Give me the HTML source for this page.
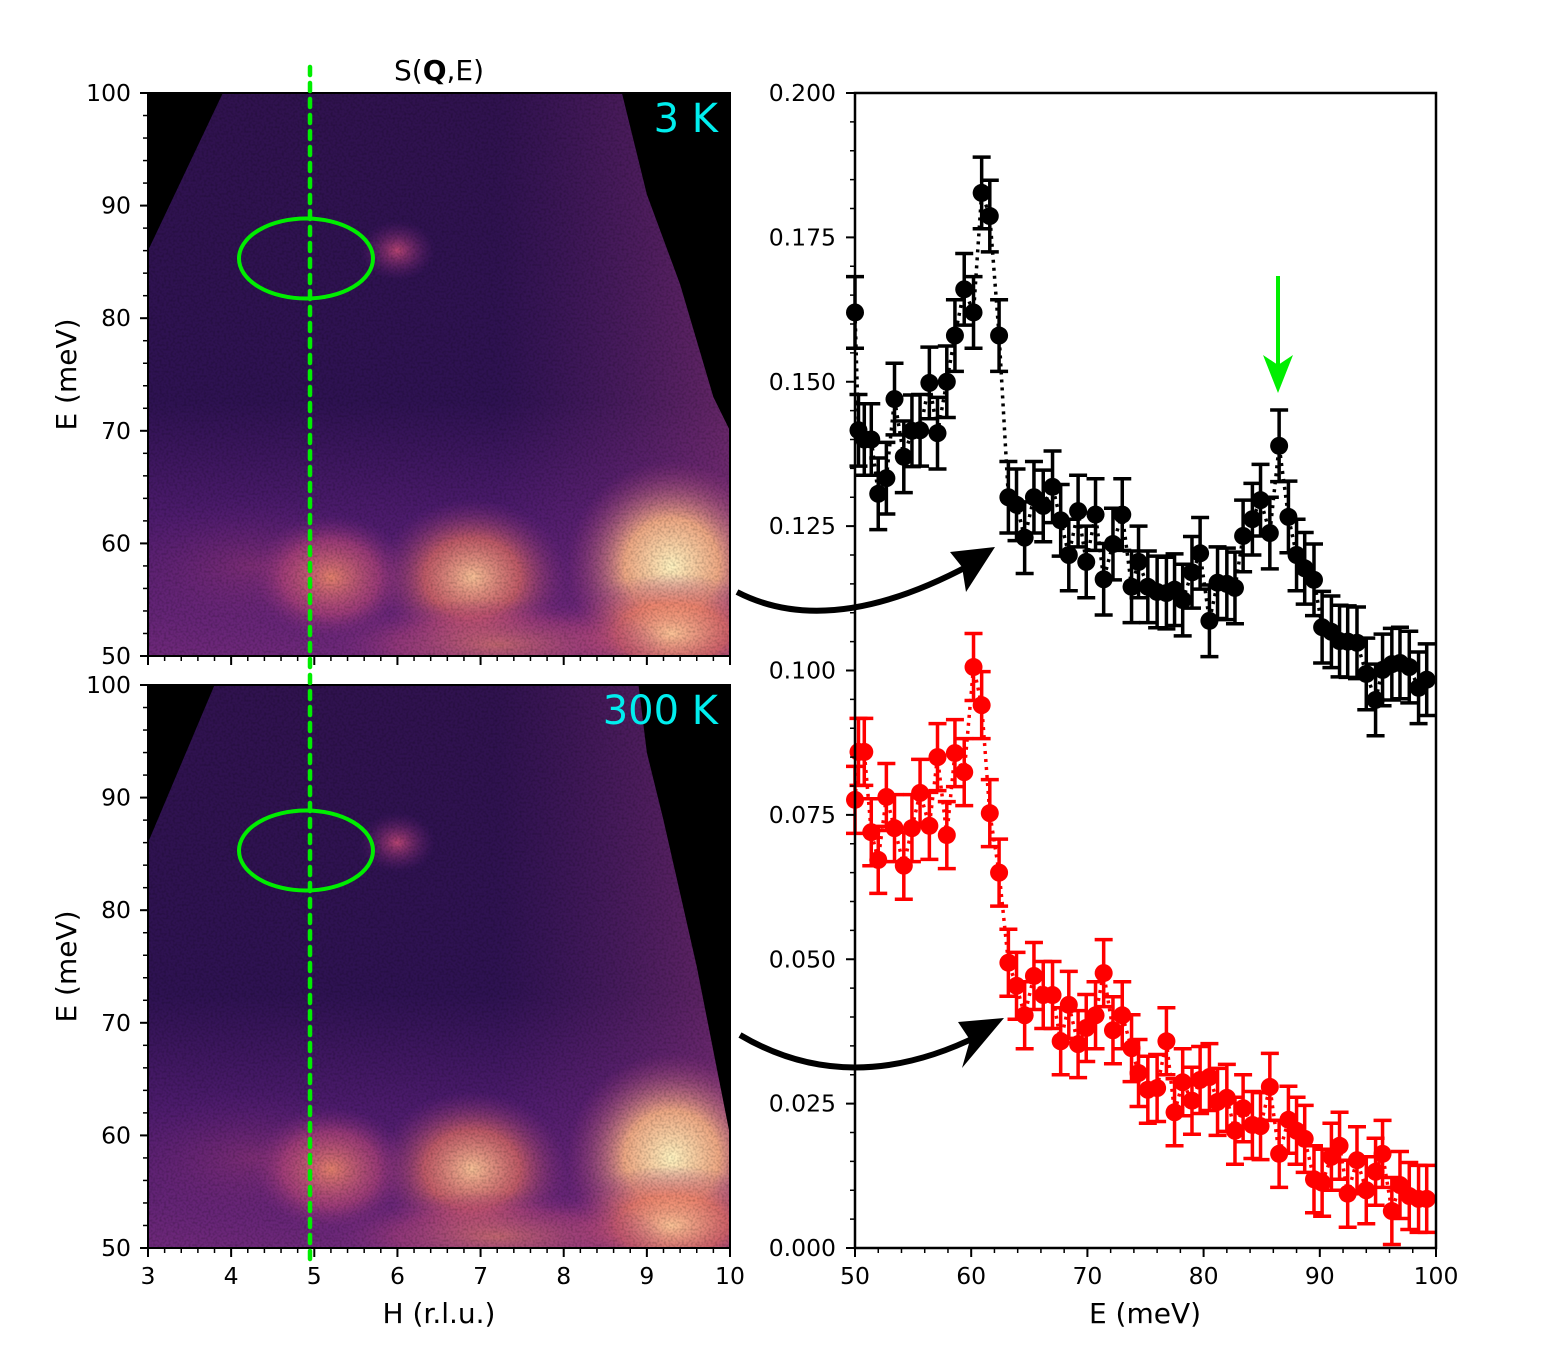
<!DOCTYPE html>
<html><head><meta charset="utf-8"><style>
html,body{margin:0;padding:0;background:#fff;}
svg{display:block;font-family:"DejaVu Sans","Liberation Sans",sans-serif;}
</style></head><body>
<svg id="fig" width="1561" height="1356" viewBox="0 0 1561 1356" xmlns="http://www.w3.org/2000/svg">
<defs>
<radialGradient id="gA"><stop offset="0" stop-color="#f08a6a" stop-opacity="0.9"/><stop offset="0.6" stop-color="#c04a7a" stop-opacity="0.6"/><stop offset="1" stop-color="#7a2a80" stop-opacity="0"/></radialGradient>
<radialGradient id="gB"><stop offset="0" stop-color="#ffc898" stop-opacity="0.95"/><stop offset="0.5" stop-color="#e87262" stop-opacity="0.7"/><stop offset="1" stop-color="#8a3080" stop-opacity="0"/></radialGradient>
<radialGradient id="gC"><stop offset="0" stop-color="#fff3c0" stop-opacity="1"/><stop offset="0.45" stop-color="#fbb585" stop-opacity="0.9"/><stop offset="1" stop-color="#a03a7a" stop-opacity="0"/></radialGradient>
<radialGradient id="gD"><stop offset="0" stop-color="#d8507a" stop-opacity="0.8"/><stop offset="1" stop-color="#6a2080" stop-opacity="0"/></radialGradient>
<linearGradient id="gBase" x1="0" y1="0" x2="0" y2="1"><stop offset="0" stop-color="#30124f"/><stop offset="0.55" stop-color="#2e1252"/><stop offset="0.75" stop-color="#4c1b6c"/><stop offset="1" stop-color="#6e287a"/></linearGradient>
<linearGradient id="gRight" x1="0" y1="0" x2="1" y2="0"><stop offset="0" stop-color="#000" stop-opacity="0"/><stop offset="0.6" stop-color="#7a2a7a" stop-opacity="0"/><stop offset="1" stop-color="#9a3a7a" stop-opacity="0.5"/></linearGradient>
<filter id="noise" x="0" y="0" width="100%" height="100%"><feTurbulence type="fractalNoise" baseFrequency="0.45" numOctaves="1" seed="3"/><feColorMatrix values="0 0 0 0 0  0 0 0 0 0  0 0 0 0 0  0 0 0 0.5 -0.2"/></filter>
</defs>
<g id="left"></g>
<g id="right"></g>
</svg>
<script>
// ---------- right-panel data (E in meV, intensity) ----------
const energies = [50.0,50.3,50.8,51.4,52.0,52.7,53.4,54.2,54.9,55.6,56.4,57.1,57.9,58.6,59.4,60.2,60.9,61.6,62.4,63.2,63.9,64.6,65.4,66.2,67.0,67.7,68.4,69.2,69.9,70.7,71.4,72.2,73.0,73.8,74.4,75.2,76.0,76.8,77.5,78.2,79.0,79.7,80.5,81.2,82.0,82.7,83.4,84.2,84.9,85.7,86.5,87.3,88.0,88.7,89.5,90.2,91.0,91.7,92.4,93.2,94.0,94.8,95.4,96.2,96.9,97.7,98.5,99.2];
const lowT = [0.162,0.1416,0.140,0.140,0.1306,0.1333,0.147,0.137,0.1415,0.1416,0.1498,0.1411,0.150,0.158,0.166,0.162,0.1827,0.1787,0.158,0.130,0.1287,0.123,0.130,0.1285,0.1318,0.126,0.120,0.1276,0.1188,0.127,0.1158,0.1219,0.127,0.1145,0.1188,0.1145,0.1136,0.1134,0.114,0.1122,0.117,0.1203,0.1086,0.1152,0.115,0.1143,0.1233,0.1262,0.1295,0.1238,0.1389,0.1266,0.120,0.1177,0.1157,0.1075,0.1067,0.1051,0.105,0.1048,0.0994,0.0949,0.1001,0.1011,0.1013,0.1006,0.097,0.0984];
const highT = [0.0776,0.0859,0.0859,0.072,0.0672,0.0781,0.0727,0.0662,0.0727,0.0788,0.0731,0.085,0.0715,0.0857,0.0824,0.1006,0.094,0.0753,0.065,0.0494,0.0454,0.0403,0.0471,0.0438,0.0438,0.0358,0.0421,0.0353,0.0381,0.0403,0.0476,0.0377,0.0403,0.0346,0.0303,0.0274,0.0277,0.0358,0.0235,0.0287,0.0255,0.0291,0.0296,0.0253,0.026,0.0203,0.0242,0.0213,0.0211,0.0279,0.0163,0.0222,0.0203,0.0189,0.0119,0.0113,0.0158,0.0177,0.0094,0.0152,0.01,0.0132,0.0163,0.0064,0.0109,0.009,0.0085,0.0085];
const errLow = [0.0062];
const errHigh = [0.0058];
const yTicks = ["0.000","0.025","0.050","0.075","0.100","0.125","0.150","0.175","0.200"];
const xTicksE = [50,60,70,80,90,100];
const hTicks = [3,4,5,6,7,8,9,10];
const eTicksL = [50,60,70,80,90,100];

const NS="http://www.w3.org/2000/svg";
function mk(tag,attrs,parent,text){const e=document.createElementNS(NS,tag);for(const k in attrs)e.setAttribute(k,attrs[k]);if(text!==undefined)e.textContent=text;parent.appendChild(e);return e;}

// ---------- right axes ----------
const R={x0:855,x1:1436,y0:93,y1:1248};
const sx=e=>R.x0+(e-50)/50*(R.x1-R.x0);
const sy=v=>R.y1-v/0.2*(R.y1-R.y0);
const right=document.getElementById('right');

function series(vals,err,color,name){
  const g=mk('g',{},right);
  
  
  let d='';
  energies.forEach((e,i)=>{d+=(i?'L':'M')+sx(e)+','+sy(vals[i]);});
  const ln=mk('path',{d:d,fill:'none',stroke:color,'stroke-width':3.5,'stroke-dasharray':'3,5'},g);
  
  
  energies.forEach((e,i)=>{
    const x=sx(e),y=sy(vals[i]),a=sy(vals[i]+err[0]),b=sy(vals[i]-err[0]);
    const eb=mk('path',{d:`M${x},${a}L${x},${b}M${x-9},${a}L${x+9},${a}M${x-9},${b}L${x+9},${b}`,stroke:color,'stroke-width':3.5,fill:'none'},g);
    
    
    const c=mk('circle',{cx:x,cy:y,r:9,fill:color},g);
    
    
  });
}
series(highT,errHigh,'#ff0000','series-300k');
series(lowT,errLow,'#000000','series-3k');

const rframe=mk('rect',{x:R.x0,y:R.y0,width:R.x1-R.x0,height:R.y1-R.y0,fill:'none',stroke:'#000','stroke-width':2.5},right);


yTicks.forEach(t=>{const y=sy(parseFloat(t));
  mk('line',{x1:R.x0-9,x2:R.x0,y1:y,y2:y,stroke:'#000','stroke-width':2},right);
  const tx=mk('text',{x:R.x0-19,y:y+8,'text-anchor':'end','font-size':23.5},right,t);
  
  
});
for(let v=0;v<=0.2001;v+=0.005){const y=sy(v);mk('line',{x1:R.x0-5,x2:R.x0,y1:y,y2:y,stroke:'#000','stroke-width':1.5},right);}
xTicksE.forEach(t=>{const x=sx(t);
  mk('line',{x1:x,x2:x,y1:R.y1,y2:R.y1+9,stroke:'#000','stroke-width':2},right);
  const tx=mk('text',{x:x,y:R.y1+36,'text-anchor':'middle','font-size':23.5},right,t);
  
  
});
for(let e=50;e<=100;e+=2){const x=sx(e);mk('line',{x1:x,x2:x,y1:R.y1,y2:R.y1+5,stroke:'#000','stroke-width':1.5},right);}
const xl=mk('text',{x:1145,y:1323,'text-anchor':'middle','font-size':28},right,'E (meV)');


// green arrow
const ga=mk('g',{},right);


mk('line',{x1:1278,y1:276,x2:1278,y2:370,stroke:'#00ee00','stroke-width':4},ga);
mk('path',{d:'M1263,355 L1278,393 L1293,355 L1278,365 Z',fill:'#00ee00'},ga);

// ---------- left heatmaps ----------
const left=document.getElementById('left');
const L={x0:148,x1:730};
const hx=h=>L.x0+(h-3)/7*(L.x1-L.x0);
function panel(y0,y1,label,name,blackL,blackR){
  const g=mk('g',{},left);
  
  
  const ey=e=>y1-(e-50)/50*(y1-y0);
  const cid='clip'+name;
  const cp=mk('clipPath',{id:cid},g);mk('rect',{x:L.x0,y:y0,width:L.x1-L.x0,height:y1-y0},cp);
  const h=mk('g',{'clip-path':`url(#${cid})`},g);
  mk('rect',{x:L.x0,y:y0,width:L.x1-L.x0,height:y1-y0,fill:'url(#gBase)'},h);
  mk('rect',{x:L.x0,y:y0,width:L.x1-L.x0,height:y1-y0,fill:'url(#gRight)'},h);
  mk('ellipse',{cx:hx(4.3),cy:ey(58),rx:150,ry:70,fill:'url(#gD)',opacity:0.35},h);
  mk('ellipse',{cx:hx(5.2),cy:ey(57),rx:80,ry:62,fill:'url(#gA)'},h);
  mk('ellipse',{cx:hx(6.9),cy:ey(57),rx:95,ry:78,fill:'url(#gB)'},h);
  mk('ellipse',{cx:hx(9.3),cy:ey(58),rx:105,ry:105,fill:'url(#gC)'},h);
  mk('ellipse',{cx:hx(9.3),cy:ey(52),rx:110,ry:60,fill:'url(#gB)'},h);
  mk('ellipse',{cx:hx(7.2),cy:ey(51),rx:170,ry:45,fill:'url(#gA)',opacity:0.7},h);
  mk('ellipse',{cx:hx(6.0),cy:ey(86),rx:38,ry:30,fill:'url(#gD)'},h);
  mk('rect',{x:L.x0,y:y0,width:L.x1-L.x0,height:y1-y0,filter:'url(#noise)'},h);
  mk('polygon',{points:blackL.map(p=>hx(p[0])+','+ey(p[1])).join(' '),fill:'#000'},h);
  mk('polygon',{points:blackR.map(p=>hx(p[0])+','+ey(p[1])).join(' '),fill:'#000'},h);
  const fr=mk('rect',{x:L.x0,y:y0,width:L.x1-L.x0,height:y1-y0,fill:'none',stroke:'#000','stroke-width':2},g);
  
  
  eTicksL.forEach(t=>{const y=ey(t);
    mk('line',{x1:L.x0-8,x2:L.x0,y1:y,y2:y,stroke:'#000','stroke-width':2},g);
    const tx=mk('text',{x:L.x0-17,y:y+8,'text-anchor':'end','font-size':23.5},g,t);
    
    
  });
  for(let e=50;e<=100;e+=2){const y=ey(e);mk('line',{x1:L.x0-5,x2:L.x0,y1:y,y2:y,stroke:'#000','stroke-width':1.5},g);}
  hTicks.forEach(t=>{const x=hx(t);mk('line',{x1:x,x2:x,y1:y1,y2:y1+9,stroke:'#000','stroke-width':2},g);});
  for(let k=0;k<=35;k++){const x=hx(3+k*0.2);mk('line',{x1:x,x2:x,y1:y1,y2:y1+5,stroke:'#000','stroke-width':1.5},g);}
  const yl=mk('text',{x:0,y:0,'text-anchor':'middle','font-size':28,transform:`translate(76,${(y0+y1)/2}) rotate(-90)`},g,'E (meV)');
  
  
  const lb=mk('text',{x:718,y:y0+39,'text-anchor':'end','font-size':40,fill:'#00eeee'},g,label);
  
  
  const el=mk('ellipse',{cx:306,cy:ey(85.3),rx:67,ry:40,fill:'none',stroke:'#00ee00','stroke-width':4},g);
  
  
  return ey;
}
panel(93,656,'3 K','heatmap-3k',[[3,100],[3.9,100],[3,86]],[[8.7,100],[10,100],[10,70],[9.8,73],[9.4,83],[9.0,91]]);
panel(685,1248,'300 K','heatmap-300k',[[3,100],[3.8,100],[3,86]],[[8.9,100],[10,100],[10,60],[9.6,75],[9.2,88],[9.0,94]]);
hTicks.forEach(t=>{
  const tx=mk('text',{x:hx(t),y:1284,'text-anchor':'middle','font-size':23.5},left,t);
  
  
});
const hl=mk('text',{x:439,y:1323,'text-anchor':'middle','font-size':28},left,'H (r.l.u.)');


const tt=mk('text',{x:439,y:80,'text-anchor':'middle','font-size':28},left);


tt.innerHTML='S(<tspan font-weight="bold">Q</tspan>,E)';
const vl=mk('line',{x1:310,x2:310,y1:67,y2:1260,stroke:'#00ee00','stroke-width':4.5,'stroke-dasharray':'8,8','stroke-linecap':'round'},left);


// curved arrows
function curve(d,head,name){const g=mk('g',{},left);
  
  
  mk('path',{d:d,fill:'none',stroke:'#000','stroke-width':6},g);mk('path',{d:head,fill:'#000'},g);}
curve('M737,592 Q830,640 970,565','M995,547 L950,552 L962,567 L966,592 Z','arrow-3k');
curve('M740,1035 Q850,1100 980,1035','M1004,1018 L958,1022 L970,1040 L962,1068 Z','arrow-300k');
</script>
</body></html>
